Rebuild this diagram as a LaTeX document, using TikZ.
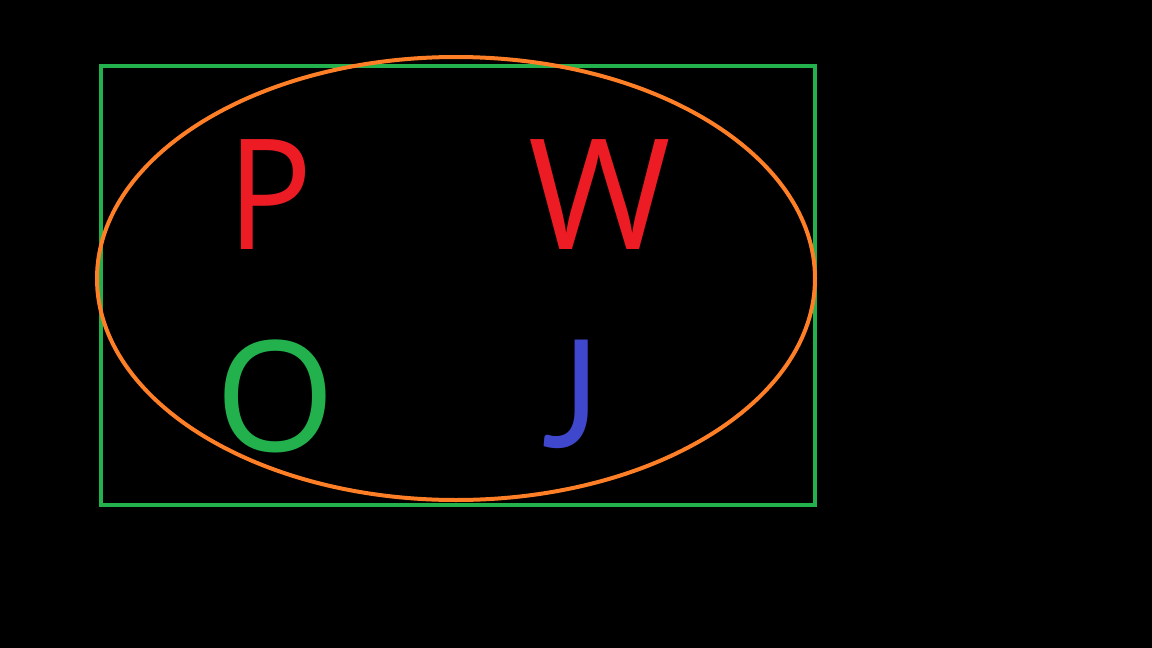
\documentclass[tikz,border=0pt]{standalone}
\usepackage{fontspec}
\setmainfont{Open Sans}
\newfontfamily\jfont{Lato}
\usetikzlibrary{shapes.geometric}
\definecolor{cred}{HTML}{ED1C24}
\definecolor{cgreen}{HTML}{22B14C}
\definecolor{cblue}{HTML}{3F48CC}
\definecolor{corange}{HTML}{FF7F27}
\begin{document}
\begin{tikzpicture}[x=1pt,y=-1pt,
  letter/.style={inner sep=0pt,anchor=north,font=\fontsize{154}{160}\selectfont}]
\fill[black] (0,0) rectangle (1152,648);
\useasboundingbox (0,0) rectangle (1152,648);
\node[draw=cgreen,line width=4.5pt,minimum width=714pt,minimum height=439pt,inner sep=0pt] (box) at (458,285.5) {};
\node[draw=corange,line width=4pt,ellipse,minimum width=718pt,minimum height=443pt,inner sep=0pt] (ell) at (456,278.5) {};
\node[letter,text=cred,xscale=0.92] (P) at (270,139) {P};
\node[letter,text=cred] (W) at (600,139) {W};
\node[letter,text=cgreen] (O) at (275,340) {O};
\node[letter,anchor=base,text=cblue,font=\fontsize{150}{156}\jfont,xscale=0.9] (J) at (571,447) {J};
\end{tikzpicture}
\end{document}
